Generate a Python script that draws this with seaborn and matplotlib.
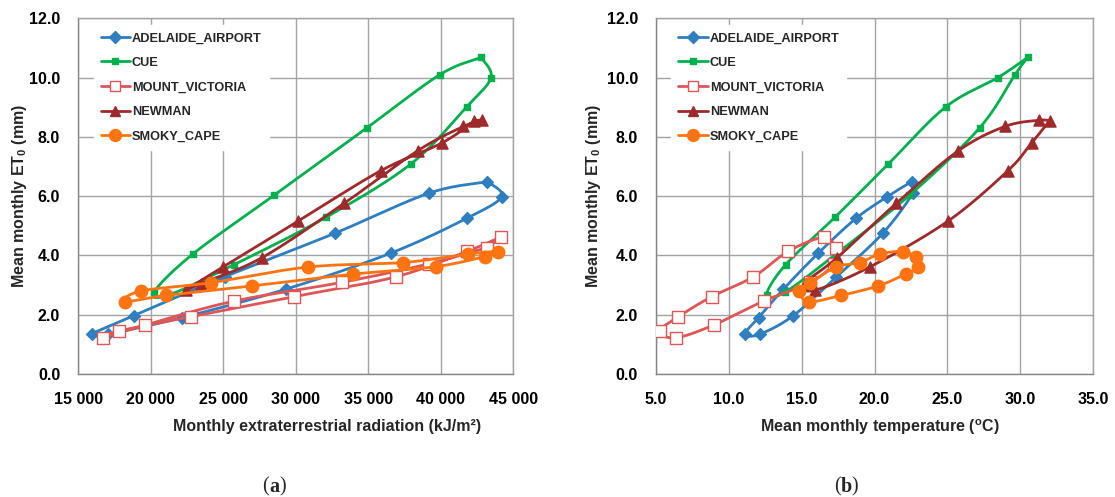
import numpy as np
import matplotlib
matplotlib.use("Agg")
import matplotlib.pyplot as plt
import seaborn as sns
from matplotlib.lines import Line2D

# ---------------- data (monthly, Jan..Dec) ----------------
stations = ["ADELAIDE_AIRPORT", "CUE", "MOUNT_VICTORIA", "NEWMAN", "SMOKY_CAPE"]

et0_adelaide = [6.49, 6.10, 4.75, 3.28, 1.97, 1.34, 1.35, 1.90, 2.86, 4.08, 5.25, 5.98]
et0_cue = [10.68, 10.10, 8.30, 6.03, 4.04, 2.76, 2.68, 3.69, 5.28, 7.08, 9.01, 10.00]
et0_mount_victoria = [4.26, 3.72, 3.09, 2.46, 1.65, 1.22, 1.45, 1.93, 2.61, 3.28, 4.14, 4.61]
et0_newman = [8.54, 7.80, 6.86, 5.16, 3.62, 2.83, 3.05, 3.93, 5.76, 7.53, 8.35, 8.56]
et0_smoky_cape = [3.96, 3.62, 3.37, 2.97, 2.65, 2.44, 2.80, 3.08, 3.61, 3.76, 4.05, 4.13]

rad_adelaide = [43210, 39180, 32700, 25100, 18840, 15920, 17070, 22130, 29300, 36560, 41780, 44200]
rad_cue = [42770, 39940, 34890, 28500, 22880, 20220, 21320, 25740, 32060, 37920, 41780, 43460]
rad_mount_victoria = [43160, 39200, 33160, 25740, 19600, 16680, 17800, 22750, 29870, 36910, 41830, 44130]
rad_newman = [42310, 40100, 35870, 30170, 25000, 22430, 23440, 27690, 33340, 38400, 41550, 42820]
rad_smoky_cape = [43050, 39640, 33970, 26950, 21050, 18220, 19320, 24130, 30860, 37410, 41900, 43930]

temp_adelaide = [22.55, 22.62, 20.57, 17.39, 14.43, 12.11, 11.11, 12.04, 13.74, 16.15, 18.73, 20.87]
temp_cue = [30.51, 29.65, 27.21, 22.40, 17.34, 13.85, 12.60, 13.90, 17.27, 20.94, 24.89, 28.47]
temp_mount_victoria = [17.38, 17.20, 15.60, 12.39, 8.95, 6.35, 5.26, 6.53, 8.83, 11.69, 14.08, 16.50]
temp_newman = [32.02, 30.79, 29.16, 25.05, 19.71, 15.94, 15.20, 17.45, 21.50, 25.75, 28.95, 31.28]
temp_smoky_cape = [22.84, 23.00, 22.14, 20.24, 17.68, 15.52, 14.83, 15.57, 17.39, 19.00, 20.36, 21.96]

x_ticks_a = [15000, 20000, 25000, 30000, 35000, 40000, 45000]
x_ticks_b = [5.0, 10.0, 15.0, 20.0, 25.0, 30.0, 35.0]
y_ticks = [0.0, 2.0, 4.0, 6.0, 8.0, 10.0, 12.0]

et0 = [et0_adelaide, et0_cue, et0_mount_victoria, et0_newman, et0_smoky_cape]
rad = [rad_adelaide, rad_cue, rad_mount_victoria, rad_newman, rad_smoky_cape]
temp = [temp_adelaide, temp_cue, temp_mount_victoria, temp_newman, temp_smoky_cape]

# ---------------- style ----------------
colors = ["#2E7EC0", "#00B04F", "#DE5656", "#9E2A2B", "#FF7410"]
markers = ["D", "s", "s", "^", "o"]
msize = [6.0, 5.0, 8.5, 8.0, 9.0]
faces = ["#2E7EC0", "#00B04F", "white", "#9E2A2B", "#FF7410"]

FONT = "Liberation Sans"
sns.set_style("white")
plt.rcParams["font.family"] = [FONT, "DejaVu Sans"]
plt.rcParams["font.weight"] = "bold"
plt.rcParams["mathtext.fontset"] = "custom"
plt.rcParams["mathtext.rm"] = FONT + ":bold"
plt.rcParams["mathtext.it"] = FONT + ":bold:italic"
plt.rcParams["mathtext.bf"] = FONT + ":bold"

GRID = "#A3A3A3"
AXC = "#868686"


def smooth_loop(x, y, n=24):
    """Excel-style smoothed line through the points Jan..Dec and back to Jan."""
    P = np.column_stack([np.r_[x, x[0]], np.r_[y, y[0]]]).astype(float)
    ext = np.vstack([P[0], P, P[-1]])
    t = np.linspace(0, 1, n)[:, None]
    segs = []
    for i in range(len(P) - 1):
        p0, p3 = ext[i + 1], ext[i + 2]
        c1 = p0 + (ext[i + 2] - ext[i]) / 6.0
        c2 = p3 - (ext[i + 3] - ext[i + 1]) / 6.0
        seg = (1 - t) ** 3 * p0 + 3 * (1 - t) ** 2 * t * c1 + 3 * (1 - t) * t ** 2 * c2 + t ** 3 * p3
        segs.append(seg if i == 0 else seg[1:])
    return np.vstack(segs)


fig = plt.figure(figsize=(11.15, 4.97), dpi=100)
ax_a = fig.add_axes([78.3 / 1115, 1 - 374 / 497, 435 / 1115, 355.7 / 497])
ax_b = fig.add_axes([656 / 1115, 1 - 374 / 497, 437 / 1115, 355.7 / 497])


def draw(ax, xs_list):
    for k, (xs, ys) in enumerate(zip(xs_list, et0)):
        curve = smooth_loop(xs, ys)
        sns.lineplot(x=curve[:, 0], y=curve[:, 1], sort=False, estimator=None,
                     color=colors[k], lw=2.0, ax=ax, legend=False, zorder=3 + 2 * k)
        sns.scatterplot(x=xs, y=ys, marker=markers[k], s=msize[k] ** 2,
                        color=faces[k], edgecolor=colors[k], linewidth=1.0,
                        ax=ax, legend=False, zorder=4 + 2 * k)


def style(ax, xticks, xlabels, xlabel, xlab_pos, ylab_x):
    ax.set_xlim(xticks[0], xticks[-1])
    ax.set_ylim(0, 12)
    ax.set_xticks(xticks)
    ax.set_xticklabels(xlabels)
    ax.set_yticks(y_ticks)
    ax.set_yticklabels([f"{v:.1f}" for v in y_ticks])
    ax.grid(True, color=GRID, lw=1.0)
    ax.set_axisbelow(True)
    for s in ["left", "bottom"]:
        ax.spines[s].set_color(AXC)
        ax.spines[s].set_linewidth(1.0)
    for s in ["top", "right"]:
        ax.spines[s].set_color(GRID)
        ax.spines[s].set_linewidth(1.0)
    ax.tick_params(axis="both", direction="out", length=5, width=1, color=AXC,
                   labelsize=11.5, labelcolor="black")
    ax.tick_params(axis="y", pad=8)
    ax.tick_params(axis="x", pad=8)
    for lab in ax.get_xticklabels() + ax.get_yticklabels():
        lab.set_fontweight("bold")
    ax.set_xlabel(xlabel, fontsize=11.5, fontweight="bold", va="center")
    ax.xaxis.set_label_coords(xlab_pos, -(427 - 374) / 355.7)
    ax.set_ylabel(r"Mean monthly ET$_0$ (mm)", fontsize=11.5, fontweight="bold", va="center")
    ax.yaxis.set_label_coords(ylab_x, 0.5)
    handles = [Line2D([0], [0], color=colors[k], lw=2.0, marker=markers[k],
                      markersize=msize[k] * (0.95 if k != 2 else 0.9),
                      markerfacecolor=faces[k], markeredgecolor=colors[k], markeredgewidth=1.0)
               for k in range(5)]
    leg = ax.legend(handles, stations, loc="upper left", bbox_to_anchor=(0.035, 0.98),
                    frameon=True, fancybox=False, framealpha=1, edgecolor="white",
                    facecolor="white", prop={"family": FONT, "weight": "bold", "size": 9.2},
                    handlelength=2.3, handletextpad=0.15, labelspacing=0.98,
                    borderpad=0.55, borderaxespad=0.0)
    leg.set_zorder(30)


draw(ax_a, rad)
draw(ax_b, temp)
style(ax_a, x_ticks_a, [f"{v:,}".replace(",", " ") for v in x_ticks_a],
      "Monthly extraterrestrial radiation (kJ/m\u00b2)", 0.572, -(78.3 - 20) / 435)
style(ax_b, x_ticks_b, [f"{v:.1f}" for v in x_ticks_b],
      r"Mean monthly temperature ($^{\mathrm{o}}$C)", 0.513, -(656 - 593.5) / 437)

# panel labels: regular parentheses, bold letter
for cx, letter in [(274, "a"), (846, "b")]:
    xf, yf = cx / 1115, 1 - 487 / 497
    fig.text(xf, yf, letter, ha="center", va="center", fontsize=14.5,
             family="Liberation Serif", weight="bold")
    fig.text(xf - 0.0047, yf, "(", ha="right", va="center", fontsize=14.5,
             family="Liberation Serif", weight="normal")
    fig.text(xf + 0.0047, yf, ")", ha="left", va="center", fontsize=14.5,
             family="Liberation Serif", weight="normal")

fig.savefig("out.png", dpi=100, facecolor="white")
